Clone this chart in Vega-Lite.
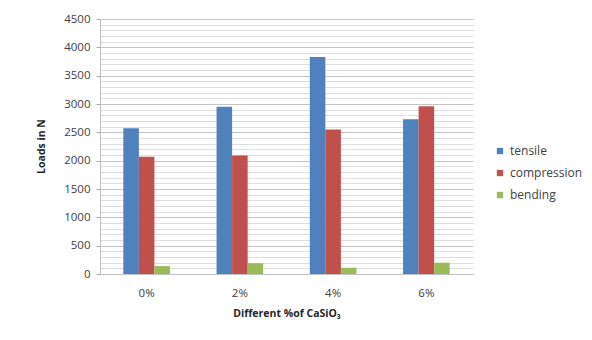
{
  "$schema": "https://vega.github.io/schema/vega-lite/v6.json",
  "autosize": {"type": "none"},
  "width": 373,
  "height": 255,
  "padding": {"left": 100, "top": 19, "right": 119, "bottom": 66},
  "background": "white",
  "config": {
    "font": "Open Sans",
    "view": {"stroke": null},
    "axis": {"labelFont": "Open Sans", "titleFont": "Open Sans"}
  },
  "data": {
    "values": [
      {"pct": "0%", "series": "tensile", "load": 2570},
      {"pct": "0%", "series": "compression", "load": 2070},
      {"pct": "0%", "series": "bending", "load": 140},
      {"pct": "2%", "series": "tensile", "load": 2950},
      {"pct": "2%", "series": "compression", "load": 2090},
      {"pct": "2%", "series": "bending", "load": 190},
      {"pct": "4%", "series": "tensile", "load": 3830},
      {"pct": "4%", "series": "compression", "load": 2550},
      {"pct": "4%", "series": "bending", "load": 110},
      {"pct": "6%", "series": "tensile", "load": 2730},
      {"pct": "6%", "series": "compression", "load": 2960},
      {"pct": "6%", "series": "bending", "load": 200}
    ]
  },
  "mark": {"type": "bar"},
  "encoding": {
    "x": {
      "field": "pct",
      "type": "nominal",
      "sort": ["0%", "2%", "4%", "6%"],
      "scale": {"paddingInner": 0.5, "paddingOuter": 0.25},
      "axis": {
        "title": "Different %of CaSiO₃",
        "labelAngle": 0,
        "labelFontSize": 11.5,
        "labelColor": "#404040",
        "labelPadding": 13,
        "ticks": false,
        "domainColor": "#c0c0c0",
        "titleFontSize": 10.5,
        "titleFontWeight": "bold",
        "titleColor": "#262626",
        "titlePadding": 10
      }
    },
    "xOffset": {
      "field": "series",
      "type": "nominal",
      "sort": ["tensile", "compression", "bending"],
      "scale": {"paddingInner": 0, "paddingOuter": 0}
    },
    "y": {
      "field": "load",
      "type": "quantitative",
      "scale": {"domain": [0, 4500], "nice": false},
      "axis": {
        "title": "Loads in N",
        "values": [0, 100, 200, 300, 400, 500, 600, 700, 800, 900, 1000, 1100, 1200, 1300, 1400, 1500, 1600, 1700, 1800, 1900, 2000, 2100, 2200, 2300, 2400, 2500, 2600, 2700, 2800, 2900, 3000, 3100, 3200, 3300, 3400, 3500, 3600, 3700, 3800, 3900, 4000, 4100, 4200, 4300, 4400, 4500],
        "labelExpr": "datum.value % 500 === 0 ? datum.label : ''",
        "format": "d",
        "labelFontSize": 11.5,
        "labelColor": "#404040",
        "labelPadding": 6,
        "tickSize": 4,
        "tickColor": "#a6a6a6",
        "tickOpacity": {"condition": {"test": "datum.value % 500 === 0", "value": 1}, "value": 0},
        "domainColor": "#c0c0c0",
        "grid": true,
        "gridColor": {"condition": {"test": "datum.value % 500 === 0", "value": "#c4c4c4"}, "value": "#dedede"},
        "gridWidth": 1.2,
        "titleFontSize": 10.5,
        "titleFontWeight": "bold",
        "titleColor": "#262626",
        "titleX": -54,
        "titleY": 127
      }
    },
    "color": {
      "field": "series",
      "type": "nominal",
      "scale": {
        "domain": ["tensile", "compression", "bending"],
        "range": ["#4f81bd", "#c0504d", "#9bbb59"]
      },
      "legend": {
        "title": null,
        "orient": "none",
        "legendX": 394,
        "legendY": 126,
        "symbolType": "square",
        "symbolSize": 40,
        "symbolStrokeWidth": 0,
        "labelFontSize": 12,
        "labelColor": "#404040",
        "labelOffset": 4,
        "rowPadding": 10
      }
    }
  }
}
